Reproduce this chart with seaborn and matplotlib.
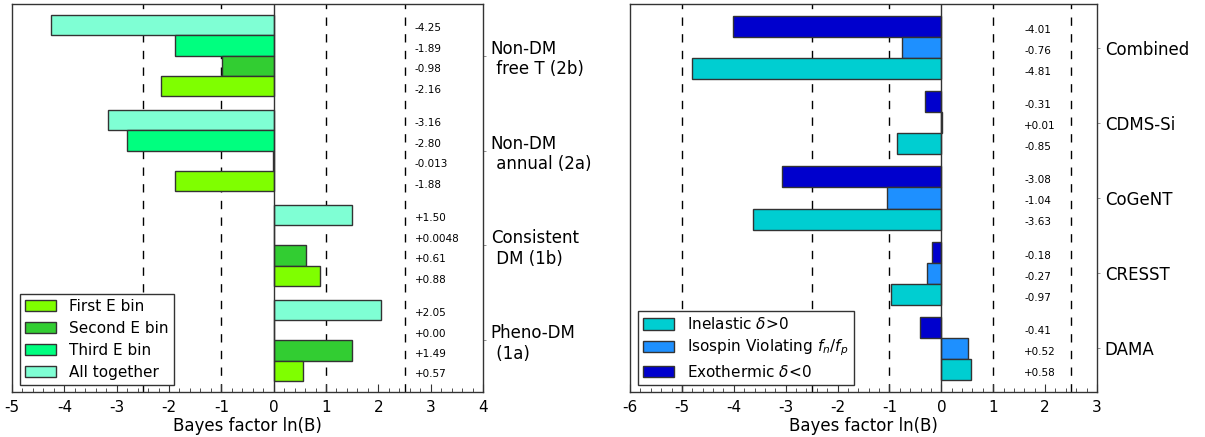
import numpy as np
import pandas as pd
import matplotlib
matplotlib.use("Agg")
import matplotlib.pyplot as plt
from matplotlib.patches import Patch
from matplotlib.ticker import AutoMinorLocator
import seaborn as sns

sns.set_style("white")
plt.rcParams['font.family'] = ['DejaVu Sans']
plt.rcParams['axes.unicode_minus'] = False
plt.rcParams['text.color'] = 'black'
plt.rcParams['axes.labelcolor'] = 'black'
plt.rcParams['xtick.color'] = 'black'
plt.rcParams['ytick.color'] = 'black'

# ---------------- data (left panel) ----------------
left_groups = ["Non-DM\n free T (2b)", "Non-DM\n annual (2a)", "Consistent\n DM (1b)", "Pheno-DM\n (1a)"]
left_series = ["First E bin", "Second E bin", "Third E bin", "All together"]
first_bin = [-2.16, -1.88, 0.88, 0.57]
second_bin = [-0.98, -0.013, 0.61, 1.49]
third_bin = [-1.89, -2.80, 0.0048, 0.00]
all_together = [-4.25, -3.16, 1.50, 2.05]
first_txt = ["-2.16", "-1.88", "+0.88", "+0.57"]
second_txt = ["-0.98", "-0.013", "+0.61", "+1.49"]
third_txt = ["-1.89", "-2.80", "+0.0048", "+0.00"]
all_txt = ["-4.25", "-3.16", "+1.50", "+2.05"]
left_colors = ["#7FFF00", "#32CD32", "#00FF7F", "#7FFFD4"]

# ---------------- data (right panel) ----------------
right_groups = ["Combined", "CDMS-Si", "CoGeNT", "CRESST", "DAMA"]
right_series = [r"Inelastic $\delta\!>\!0$", r"Isospin Violating $f_n/f_p$", r"Exothermic $\delta\!<\!0$"]
inelastic = [-4.81, -0.85, -3.63, -0.97, 0.58]
isospin = [-0.76, 0.01, -1.04, -0.27, 0.52]
exothermic = [-4.01, -0.31, -3.08, -0.18, -0.41]
inelastic_txt = ["-4.81", "-0.85", "-3.63", "-0.97", "+0.58"]
isospin_txt = ["-0.76", "+0.01", "-1.04", "-0.27", "+0.52"]
exothermic_txt = ["-4.01", "-0.31", "-3.08", "-0.18", "-0.41"]
right_colors = ["#00CED1", "#1E90FF", "#0000CD"]

left_vals = [first_bin, second_bin, third_bin, all_together]
left_txts = [first_txt, second_txt, third_txt, all_txt]
right_vals = [inelastic, isospin, exothermic]
right_txts = [inelastic_txt, isospin_txt, exothermic_txt]

def long_df(groups, series, vals, txts):
    rows = []
    for s, v, t in zip(series, vals, txts):
        for g, vv, tt in zip(groups, v, t):
            rows.append({"group": g, "series": s, "value": vv, "txt": tt})
    return pd.DataFrame(rows)

df_left = long_df(left_groups, left_series, left_vals, left_txts)
df_right = long_df(right_groups, right_series, right_vals, right_txts)

fig = plt.figure(figsize=(12.05, 4.37), dpi=100)
ax1 = fig.add_axes([12/1205, 1 - 392/437, 471/1205, 388/437])
ax2 = fig.add_axes([630/1205, 1 - 392/437, 467/1205, 388/437])

EDGE = "0.2"

def panel(ax, df, groups, series, colors, width, xlim, dashes, txt_x, ylim, lspace):
    order_top_down = series[::-1]
    pal = dict(zip(series, colors))
    sns.barplot(data=df, x="value", y="group", hue="series", order=groups,
                hue_order=order_top_down, palette=pal, orient="h", width=width,
                saturation=1, errorbar=None, edgecolor=EDGE, linewidth=1,
                legend=False, ax=ax)
    # annotations at each bar centre
    for s, cont in zip(order_top_down, ax.containers):
        sub = df[df.series == s].set_index("group").loc[groups]
        for bar, t in zip(cont, sub["txt"]):
            yc = bar.get_y() + bar.get_height() / 2
            ax.annotate(t, (txt_x, yc), xytext=(0, -2.5), textcoords="offset points",
                        fontsize=7.5, ha="left", va="center", color="black")
    for d in dashes:
        ax.axvline(d, color="black", lw=1, ls=(0, (6, 6)), zorder=0)
    ax.axvline(0, color=EDGE, lw=1, zorder=3)
    ax.set_xlim(*xlim)
    ax.set_xticks(np.arange(xlim[0], xlim[1] + 1, 1))
    ax.xaxis.set_minor_locator(AutoMinorLocator(5))
    ax.set_ylim(*ylim)
    ax.yaxis.tick_right()
    ax.set_ylabel("")
    ax.set_xlabel("Bayes factor ln(B)", fontsize=12, labelpad=1)
    ax.tick_params(axis="x", which="major", direction="in", length=6, width=0.8,
                   labelsize=11, pad=6, bottom=True, top=False, color=EDGE)
    ax.tick_params(axis="x", which="minor", direction="in", length=3, width=0.6,
                   bottom=True, top=False, color=EDGE)
    ax.tick_params(axis="y", which="major", direction="out", length=2.5, width=0.6,
                   labelsize=12, pad=3, left=False, right=True, color="0.5")
    for sp in ax.spines.values():
        sp.set_visible(True)
        sp.set_color(EDGE)
        sp.set_linewidth(1)
    handles = [Patch(facecolor=c, edgecolor=EDGE, lw=1, label=s) for s, c in zip(series, colors)]
    leg = ax.legend(handles=handles, loc="lower left", bbox_to_anchor=(8/470, 7/388),
                    borderaxespad=0, fontsize=11, fancybox=False, framealpha=1,
                    edgecolor=EDGE, handlelength=2.0, handleheight=0.75,
                    handletextpad=0.85, labelspacing=lspace, borderpad=0.35)
    leg.get_frame().set_linewidth(1)
    leg.set_zorder(5)

panel(ax1, df_left, left_groups, left_series, left_colors, 0.86, (-5, 4),
      [-2.5, -1, 1, 2.5], 2.7, (3.544, -0.544), 0.45)
panel(ax2, df_right, right_groups, right_series, right_colors, 0.84, (-6, 3),
      [-5, -2.5, -1, 1, 2.5], 1.6, (4.585, -0.585), 0.35)

fig.savefig("out.png", dpi=100)
